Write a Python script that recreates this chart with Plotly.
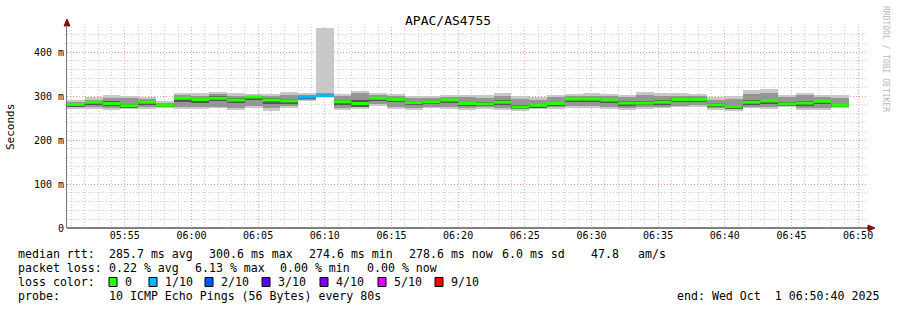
import plotly.graph_objects as go
from datetime import datetime, timedelta

# ---------------- data ----------------
start = datetime(2025, 10, 1, 5, 50, 40)
step_s = 80
rtt_median = [281, 286, 283, 278, 286, 279, 295, 292, 295, 291, 298, 291, 289, 298, 300.6, 287, 283, 295, 292, 285, 287, 291,
              283, 282, 286, 275, 279, 283, 293, 293, 291, 284, 284, 286, 292, 292, 280, 276, 286, 289, 282, 284, 288, 279]
rtt_min = [271, 271, 269, 270, 271, 272, 271, 270, 273, 269, 273, 267, 273, 288, 297, 269, 271, 278, 271, 269, 273, 271,
           269, 271, 269, 267, 271, 271, 273, 273, 271, 269, 271, 273, 274, 275, 269, 267, 273, 271, 276, 269, 269, 273]
rtt_max = [290, 297, 302, 301, 298, 289, 308, 307, 310, 307, 305, 305, 310, 308, 455, 305, 312, 308, 305, 300, 300, 303,
           303, 302, 306, 300, 297, 303, 305, 306, 305, 303, 310, 306, 307, 305, 297, 300, 314, 316, 303, 308, 303, 302]
rtt_q_lo = [274, 275, 273, 273, 274, 274, 276, 275, 276, 273, 277, 272, 277, 290, 299, 273, 274, 281, 275, 273, 276, 275,
            273, 274, 273, 271, 274, 274, 277, 277, 275, 273, 275, 276, 278, 279, 272, 270, 276, 275, 278, 273, 273, 275]
rtt_q_hi = [286, 292, 296, 295, 293, 285, 302, 300, 304, 300, 301, 299, 303, 303, 307, 299, 306, 303, 300, 295, 295, 298,
            297, 296, 299, 293, 292, 297, 300, 301, 300, 297, 302, 300, 301, 300, 292, 293, 305, 306, 298, 302, 298, 296]
rtt_d_lo = [276, 279, 277, 273, 279, 275, 287, 285, 288, 284, 291, 283, 282, 293, 299, 280, 275, 289, 286, 279, 281, 285,
            277, 277, 279, 270, 273, 277, 286, 286, 285, 277, 279, 280, 287, 286, 274, 271, 280, 283, 277, 278, 282, 274]
rtt_d_hi = [283, 289, 288, 282, 289, 281, 298, 295, 299, 295, 300, 296, 293, 300, 303, 291, 291, 297, 295, 288, 291, 294,
            287, 286, 290, 279, 283, 287, 296, 296, 294, 288, 289, 290, 295, 295, 284, 280, 290, 292, 286, 288, 292, 283]
loss_tenths = [0] * 13 + [1, 1] + [0] * 29

loss_colors = {0: "#26ff00", 1: "#00b8ff", 2: "#0059ff", 3: "#5e00ff", 4: "#7e00ff", 5: "#dd00ff", 9: "#ff0000"}
legend_labels = ["0", "1/10", "2/10", "3/10", "4/10", "5/10", "9/10"]
legend_keys = [0, 1, 2, 3, 4, 5, 9]

n = len(rtt_median)
t0s = [start + timedelta(seconds=step_s * k) for k in range(n)]
t1s = [start + timedelta(seconds=step_s * (k + 1)) for k in range(n)]
centers = [start + timedelta(seconds=step_s * (k + 0.5)) for k in range(n)]
end = start + timedelta(seconds=3600)

fig = go.Figure()

def band(lo, hi, color):
    fig.add_trace(go.Bar(x=centers, y=[h - l for l, h in zip(lo, hi)], base=lo, width=step_s * 1000,
                         marker=dict(color=color, line=dict(width=0)), showlegend=False, hoverinfo="skip"))

band(rtt_min, rtt_max, "#c8c8c8")
band(rtt_q_lo, rtt_q_hi, "#959595")
band(rtt_d_lo, rtt_d_hi, "#555555")

for key in sorted(set(loss_tenths)):
    xs, ys = [], []
    for k in range(n):
        if loss_tenths[k] == key:
            xs += [t0s[k], t1s[k], None]
            ys += [rtt_median[k], rtt_median[k], None]
    fig.add_trace(go.Scatter(x=xs, y=ys, mode="lines", line=dict(color=loss_colors[key], width=3),
                             showlegend=False, hoverinfo="skip"))

L, R, T, B = 67, 867, 27, 228
W, H = 897, 310
def px(x):
    return (x - L) / (R - L)
def py(y):
    return (B - y) / (B - T)

mono = "DejaVu Sans Mono"
anns = []
def ann(x, y, text, size=11.6, xanchor="left", color="#000", angle=0):
    anns.append(dict(x=px(x), y=py(y), xref="paper", yref="paper", text=text.replace(" ", "\u00a0"),
                     showarrow=False, xanchor=xanchor, yanchor="middle", textangle=angle,
                     font=dict(family=mono, size=size, color=color)))

ann(448, 20, "APAC/AS4755", size=13, xanchor="center")
ann(11, 127, "Seconds", size=11, xanchor="center", angle=-90)
ann(886, 59, "RRDTOOL / TOBI OETIKER", size=8, xanchor="center", color="#b8b8b8", angle=90)

y1, y2, y3, y4 = 254, 268, 282, 296
ann(16, y1, "median rtt:")
ann(107, y1, "285.7 ms avg")
ann(207, y1, "300.6 ms max")
ann(307, y1, "274.6 ms min")
ann(407, y1, "278.6 ms now")
ann(500, y1, "6.0 ms sd")
ann(589, y1, "47.8")
ann(636, y1, "am/s")
ann(16, y2, "packet loss:")
ann(107, y2, "0.22 % avg")
ann(193, y2, "6.13 % max")
ann(278, y2, "0.00 % min")
ann(365, y2, "0.00 % now")
ann(16, y3, "loss color:")
box_x = [109, 149, 205, 262, 320, 378, 435]
shapes = []
for bx, lab, key in zip(box_x, legend_labels, legend_keys):
    shapes.append(dict(type="rect", xref="paper", yref="paper", x0=px(bx), x1=px(bx + 8),
                       y0=py(y3 + 4.5), y1=py(y3 - 4.5), fillcolor=loss_colors[key],
                       line=dict(color="#000", width=1)))
    ann(bx + 14, y3, lab)
ann(16, y4, "probe:")
ann(107, y4, "10 ICMP Echo Pings (56 Bytes) every 80s")
ann(881, y4, "end: Wed Oct  1 06:50:40 2025", xanchor="right")

# axis arrows
arrow_col = "#7f1010"
shapes.append(dict(type="path", xref="paper", yref="paper",
                   path=f"M {px(64)} {py(26)} L {px(70)} {py(26)} L {px(67)} {py(19)} Z",
                   fillcolor=arrow_col, line=dict(color=arrow_col, width=1)))
shapes.append(dict(type="path", xref="paper", yref="paper",
                   path=f"M {px(868)} {py(225)} L {px(868)} {py(231)} L {px(875)} {py(228)} Z",
                   fillcolor=arrow_col, line=dict(color=arrow_col, width=1)))
shapes.append(dict(type="line", xref="paper", yref="paper", x0=px(67), x1=px(869), y0=0, y1=0,
                   line=dict(color="#000", width=1)))

minor_col = "rgba(170,170,170,0.6)"
major_col = "rgba(235,120,120,0.65)"
fig.update_layout(
    width=W, height=H, margin=dict(l=L, r=W - R, t=T, b=H - B),
    paper_bgcolor="#ffffff", plot_bgcolor="#ffffff", barmode="overlay", bargap=0,
    showlegend=False, hovermode=False, annotations=anns, shapes=shapes,
    xaxis=dict(type="date", range=[start, end], dtick=300000, tick0="2025-10-01 05:55:00",
               tickformat="%H:%M", showgrid=True, gridcolor=major_col, griddash="1px,2px", gridwidth=1,
               minor=dict(dtick=60000, tick0="2025-10-01 05:55:00", showgrid=True, gridcolor=minor_col,
                          griddash="1px,2px", gridwidth=1),
               showline=False, zeroline=False, ticks="", ticklen=0,
               tickfont=dict(family=mono, size=10, color="#000")),
    yaxis=dict(range=[0, 457], tickvals=[0, 100, 200, 300, 400], ticktext=["0", "100 m", "200 m", "300 m", "400 m"],
               showgrid=True, gridcolor=major_col, griddash="1px,2px", gridwidth=1,
               minor=dict(dtick=20, showgrid=True, gridcolor=minor_col, griddash="1px,2px", gridwidth=1),
               showline=True, linecolor="#777", linewidth=1, zeroline=False, ticks="", ticklen=0,
               tickfont=dict(family=mono, size=10, color="#000")),
)
fig.write_html("out.html")
